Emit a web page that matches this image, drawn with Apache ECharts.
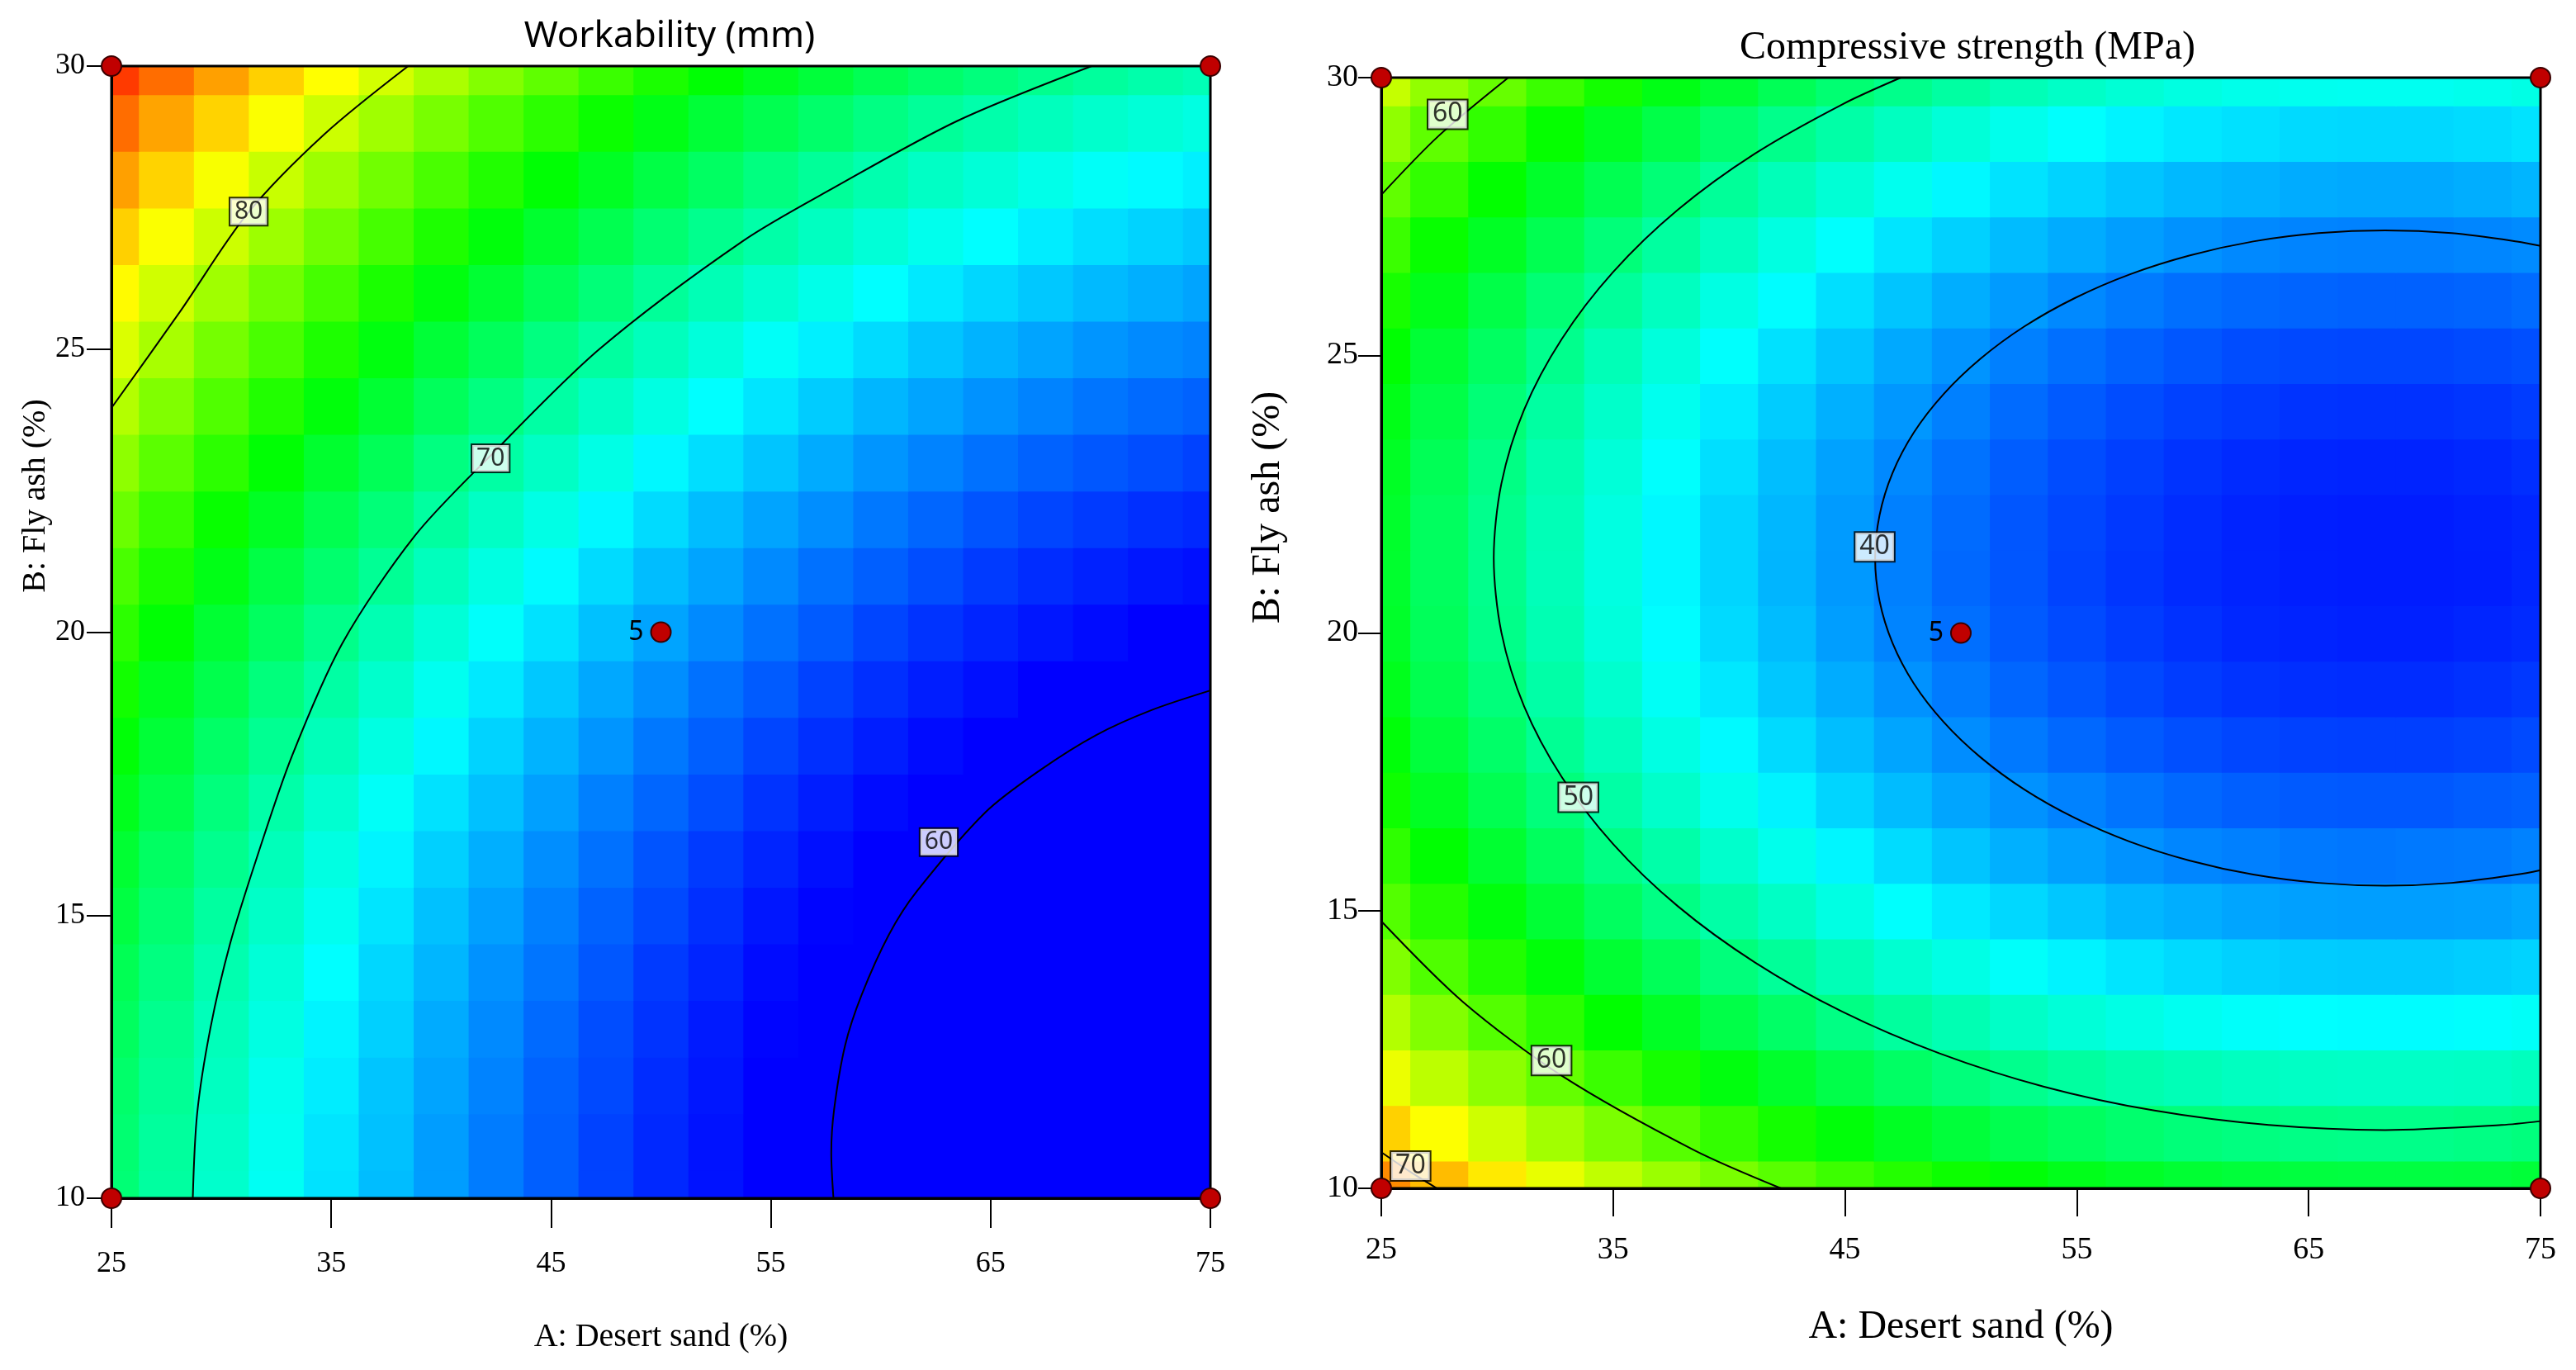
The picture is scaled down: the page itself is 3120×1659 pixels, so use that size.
<!DOCTYPE html>
<html>
<head>
<meta charset="utf-8">
<title>Workability and compressive strength contours</title>
<script src="https://cdn.jsdelivr.net/npm/echarts@6/dist/echarts.min.js"></script>
<style>
  html, body { margin: 0; padding: 0; background: #fff; }
  #chart { width: 3120px; height: 1659px; }
</style>
</head>
<body>
<div id="chart"></div>
<script>
// grid nodes of the two factors
var sandA = [25, 27.5, 30, 32.5, 35, 37.5, 40, 42.5, 45, 47.5, 50, 52.5, 55, 57.5, 60, 62.5, 65, 67.5, 70, 72.5, 75];
var flyB = [10, 11, 12, 13, 14, 15, 16, 17, 18, 19, 20, 21, 22, 23, 24, 25, 26, 27, 28, 29, 30];
var aTicks = [25, 35, 45, 55, 65, 75];
var bTicks = [10, 15, 20, 25, 30];

// workability (mm), one row per fly ash level (B = 10 ... 30)
var workability = [
  [71.3,70.1,68.9,67.8,66.7,65.7,64.8,63.9,63.1,62.3,61.6,61.0,60.4,59.9,59.4,59.0,58.7,58.4,58.2,58.0,57.9],
  [71.4,70.2,69.0,67.9,66.8,65.8,64.8,63.9,63.1,62.3,61.6,61.0,60.4,59.9,59.4,59.0,58.6,58.3,58.1,57.9,57.8],
  [71.6,70.4,69.2,68.0,67.0,65.9,65.0,64.1,63.2,62.5,61.7,61.1,60.5,59.9,59.5,59.0,58.7,58.4,58.1,58.0,57.8],
  [71.9,70.6,69.4,68.3,67.2,66.2,65.2,64.3,63.4,62.6,61.9,61.2,60.6,60.1,59.6,59.2,58.8,58.5,58.2,58.0,57.9],
  [72.2,71.0,69.7,68.6,67.5,66.4,65.5,64.5,63.7,62.9,62.1,61.5,60.8,60.3,59.8,59.3,59.0,58.6,58.4,58.2,58.0],
  [72.7,71.4,70.1,69.0,67.9,66.8,65.8,64.9,64.0,63.2,62.5,61.8,61.1,60.6,60.1,59.6,59.2,58.9,58.6,58.4,58.3],
  [73.1,71.8,70.6,69.4,68.3,67.2,66.2,65.3,64.4,63.6,62.8,62.1,61.5,60.9,60.4,59.9,59.5,59.2,58.9,58.7,58.5],
  [73.7,72.4,71.1,69.9,68.8,67.7,66.7,65.8,64.9,64.0,63.3,62.6,61.9,61.3,60.8,60.3,59.9,59.6,59.3,59.0,58.9],
  [74.3,73.0,71.7,70.5,69.4,68.3,67.3,66.3,65.4,64.6,63.8,63.1,62.4,61.8,61.3,60.8,60.4,60.0,59.7,59.5,59.3],
  [75.0,73.6,72.4,71.1,70.0,68.9,67.9,66.9,66.0,65.1,64.4,63.6,63.0,62.3,61.8,61.3,60.9,60.5,60.2,59.9,59.8],
  [75.7,74.4,73.1,71.9,70.7,69.6,68.6,67.6,66.7,65.8,65.0,64.3,63.6,63.0,62.4,61.9,61.5,61.1,60.8,60.5,60.3],
  [76.5,75.2,73.9,72.6,71.5,70.4,69.3,68.3,67.4,66.5,65.7,65.0,64.3,63.6,63.1,62.6,62.1,61.7,61.4,61.1,60.9],
  [77.4,76.0,74.7,73.5,72.3,71.2,70.1,69.1,68.2,67.3,66.5,65.7,65.0,64.4,63.8,63.3,62.8,62.4,62.1,61.8,61.6],
  [78.4,77.0,75.7,74.4,73.2,72.1,71.0,70.0,69.1,68.2,67.3,66.6,65.9,65.2,64.6,64.1,63.6,63.2,62.9,62.6,62.3],
  [79.4,78.0,76.7,75.4,74.2,73.1,72.0,71.0,70.0,69.1,68.3,67.5,66.8,66.1,65.5,65.0,64.5,64.1,63.7,63.4,63.2],
  [80.5,79.1,77.7,76.5,75.3,74.1,73.0,72.0,71.0,70.1,69.3,68.5,67.7,67.1,66.5,65.9,65.4,65.0,64.6,64.3,64.1],
  [81.6,80.2,78.9,77.6,76.4,75.2,74.1,73.1,72.1,71.2,70.3,69.5,68.8,68.1,67.5,66.9,66.4,66.0,65.6,65.3,65.0],
  [82.8,81.4,80.1,78.8,77.6,76.4,75.3,74.2,73.2,72.3,71.4,70.6,69.9,69.2,68.6,68.0,67.5,67.0,66.6,66.3,66.0],
  [84.1,82.7,81.3,80.0,78.8,77.6,76.5,75.4,74.4,73.5,72.6,71.8,71.0,70.3,69.7,69.1,68.6,68.1,67.7,67.4,67.1],
  [85.5,84.0,82.7,81.4,80.1,78.9,77.8,76.7,75.7,74.8,73.9,73.0,72.3,71.6,70.9,70.3,69.8,69.3,68.9,68.6,68.3],
  [86.9,85.5,84.1,82.8,81.5,80.3,79.2,78.1,77.1,76.1,75.2,74.4,73.6,72.9,72.2,71.6,71.1,70.6,70.2,69.8,69.5]
];

// compressive strength (MPa), same grid
var strength = [
  [72.0,69.9,67.9,66.0,64.3,62.7,61.2,59.8,58.6,57.5,56.5,55.7,54.9,54.3,53.8,53.5,53.3,53.2,53.2,53.3,53.6],
  [69.0,66.9,64.9,63.0,61.3,59.7,58.2,56.8,55.6,54.5,53.5,52.6,51.9,51.3,50.8,50.5,50.2,50.1,50.1,50.3,50.6],
  [66.2,64.1,62.1,60.3,58.5,56.9,55.4,54.1,52.8,51.7,50.7,49.9,49.1,48.5,48.1,47.7,47.5,47.4,47.4,47.5,47.8],
  [63.7,61.6,59.6,57.8,56.0,54.4,52.9,51.6,50.3,49.2,48.3,47.4,46.7,46.1,45.6,45.2,45.0,44.9,44.9,45.1,45.3],
  [61.5,59.4,57.4,55.6,53.8,52.2,50.7,49.4,48.1,47.0,46.1,45.2,44.5,43.9,43.4,43.0,42.8,42.7,42.7,42.9,43.1],
  [59.6,57.5,55.5,53.7,51.9,50.3,48.8,47.5,46.2,45.1,44.1,43.3,42.6,41.9,41.5,41.1,40.9,40.8,40.8,40.9,41.2],
  [58.0,55.9,53.9,52.0,50.3,48.7,47.2,45.8,44.6,43.5,42.5,41.6,40.9,40.3,39.8,39.5,39.2,39.1,39.2,39.3,39.6],
  [56.6,54.5,52.5,50.7,48.9,47.3,45.8,44.5,43.2,42.1,41.1,40.3,39.6,39.0,38.5,38.1,37.9,37.8,37.8,38.0,38.2],
  [55.6,53.4,51.5,49.6,47.9,46.2,44.8,43.4,42.2,41.1,40.1,39.2,38.5,37.9,37.4,37.0,36.8,36.7,36.7,36.9,37.2],
  [54.8,52.6,50.7,48.8,47.1,45.4,44.0,42.6,41.4,40.3,39.3,38.4,37.7,37.1,36.6,36.2,36.0,35.9,35.9,36.1,36.4],
  [54.2,52.1,50.1,48.3,46.5,44.9,43.4,42.1,40.8,39.7,38.8,37.9,37.2,36.6,36.1,35.7,35.5,35.4,35.4,35.6,35.8],
  [54.0,51.9,49.9,48.0,46.3,44.7,43.2,41.8,40.6,39.5,38.5,37.7,36.9,36.3,35.8,35.5,35.3,35.2,35.2,35.3,35.6],
  [54.1,51.9,49.9,48.1,46.3,44.7,43.2,41.9,40.7,39.5,38.6,37.7,37.0,36.4,35.9,35.5,35.3,35.2,35.2,35.4,35.6],
  [54.4,52.3,50.3,48.4,46.7,45.1,43.6,42.2,41.0,39.9,38.9,38.0,37.3,36.7,36.2,35.8,35.6,35.5,35.5,35.7,36.0],
  [55.0,52.9,50.9,49.0,47.3,45.7,44.2,42.8,41.6,40.5,39.5,38.6,37.9,37.3,36.8,36.5,36.2,36.1,36.1,36.3,36.6],
  [55.9,53.7,51.8,49.9,48.1,46.5,45.1,43.7,42.5,41.3,40.4,39.5,38.8,38.2,37.7,37.3,37.1,37.0,37.0,37.2,37.4],
  [57.0,54.9,52.9,51.0,49.3,47.7,46.2,44.9,43.6,42.5,41.5,40.7,39.9,39.3,38.8,38.5,38.3,38.2,38.2,38.3,38.6],
  [58.5,56.3,54.4,52.5,50.8,49.1,47.7,46.3,45.1,43.9,43.0,42.1,41.4,40.8,40.3,39.9,39.7,39.6,39.6,39.8,40.0],
  [60.2,58.1,56.1,54.2,52.5,50.9,49.4,48.0,46.8,45.7,44.7,43.8,43.1,42.5,42.0,41.7,41.4,41.3,41.3,41.5,41.8],
  [62.2,60.1,58.1,56.2,54.5,52.9,51.4,50.0,48.8,47.7,46.7,45.8,45.1,44.5,44.0,43.7,43.4,43.3,43.3,43.5,43.8],
  [64.5,62.3,60.4,58.5,56.8,55.1,53.7,52.3,51.1,50.0,49.0,48.1,47.4,46.8,46.3,45.9,45.7,45.6,45.6,45.8,46.1]
];

// contour lines, [A, B]
var work80 = [[25,23.96],[28.1,25.65],[31.2,27.4],[34.7,28.8],[38.5,30]];
var work70 = [[28.7,10],[28.9,11.5],[29.5,13],[30.4,14.5],[31.6,16],[33.2,17.8],[35.5,19.8],[38.8,21.7],[42.2,23.1],[47.2,25.0],[53.73,26.91],[57.91,27.86],[63.48,29.03],[69.6,30]];
var work60 = [[57.85,10],[57.75,10.8],[57.88,11.57],[58.38,12.7],[59.13,13.59],[60.38,14.66],[61.64,15.42],[64.77,16.82],[67.28,17.57],[69.79,18.18],[72.3,18.62],[75,18.97]];
var str40 = [[75,26.97],[73.99,27.05],[71.17,27.2],[68.3,27.25],[65.43,27.2],[62.61,27.05],[59.88,26.8],[57.3,26.46],
  [54.91,26.03],[52.74,25.52],[50.85,24.94],[49.25,24.3],[47.97,23.61],[47.05,22.88],[46.49,22.12],[46.3,21.35],
  [46.49,20.58],[47.05,19.82],[47.97,19.09],[49.25,18.4],[50.85,17.76],[52.74,17.18],[54.91,16.67],[57.3,16.24],
  [59.88,15.9],[62.61,15.65],[65.43,15.5],[68.3,15.45],[71.17,15.5],[73.99,15.65],[75,15.73]];
var str50 = [[47.41,30],[44.89,29.52],[41.11,28.63],[37.79,27.62],[35.0,26.5],[32.78,25.29],[31.16,24.02],[30.18,22.69],
  [29.85,21.35],[30.18,20.01],[31.16,18.68],[32.78,17.41],[35.0,16.2],[37.79,15.08],[41.11,14.07],[44.89,13.18],
  [49.08,12.43],[53.59,11.83],[58.35,11.4],[63.28,11.14],[68.3,11.05],[73.32,11.14],[75,11.21]];
var str60a = [[25,27.89],[27.47,28.95],[30.48,30]];
var str60b = [[25,14.81],[28.54,13.35],[32.81,12.02],[38.48,10.69],[42.24,10]];
var str70 = [[25,10.65],[26.2,10.31],[27.4,10]];

// contour labels [A, B, text]
var workLabels = [[31.24,27.43,'80'],[42.25,23.07,'70'],[62.64,16.29,'60']];
var strLabels = [[27.86,29.34,'60'],[46.28,21.55,'40'],[33.5,17.04,'50'],[32.34,12.3,'60'],[26.26,10.4,'70']];

// design points
var cornerPts = [[25,10],[25,30],[75,10],[75,30]];
var centerPt = [[50,20,'5']];

var serif = "'Liberation Serif', 'Times New Roman', serif";
var sans = "'Noto Sans', 'DejaVu Sans', sans-serif";

function cells(values) {
    var out = [];
    flyB.forEach(function (b, j) {
        sandA.forEach(function (a, i) {
            out.push([a, b, values[j][i]]);
        });
    });
    return out;
}

var halfA = (sandA[1] - sandA[0]) / 2;
var halfB = (flyB[1] - flyB[0]) / 2;
function renderCell(params, api) {
    var a = api.value(0), b = api.value(1);
    var p0 = api.coord([a - halfA, b + halfB]);
    var p1 = api.coord([a + halfA, b - halfB]);
    return {
        type: 'rect',
        shape: { x: p0[0], y: p0[1], width: p1[0] - p0[0] + 1, height: p1[1] - p0[1] + 1 },
        style: { fill: api.visual('color') }
    };
}

function xAxisFor(idx, fs, nfs, gap, margin, tick) {
    return {
        gridIndex: idx, type: 'value', min: 25, max: 75, z: 5,
        name: 'A: Desert sand (%)', nameLocation: 'middle', nameGap: gap,
        nameTextStyle: { fontFamily: serif, fontSize: nfs, color: '#000' },
        axisLine: { show: true, onZero: false, lineStyle: { color: '#000', width: 3 } },
        axisTick: { show: true, length: tick, customValues: aTicks, lineStyle: { color: '#000', width: 2 } },
        axisLabel: { customValues: aTicks, margin: margin, fontFamily: serif, fontSize: fs, color: '#000' },
        splitLine: { show: false }
    };
}
function yAxisFor(idx, fs, nfs, gap, margin, tick, shift) {
    return {
        gridIndex: idx, type: 'value', min: 10, max: 30, z: 5,
        name: 'B: Fly ash (%)', nameLocation: 'middle', nameGap: gap, nameRotate: 90,
        nameTextStyle: { fontFamily: serif, fontSize: nfs, color: '#000', padding: [0, 0, 0, shift] },
        axisLine: { show: true, onZero: false, lineStyle: { color: '#000', width: 3 } },
        axisTick: { show: true, length: tick, customValues: bTicks, lineStyle: { color: '#000', width: 2 } },
        axisLabel: { customValues: bTicks, margin: margin, fontFamily: serif, fontSize: fs, color: '#000' },
        splitLine: { show: false }
    };
}

function contour(idx, data) {
    return {
        type: 'line', xAxisIndex: idx, yAxisIndex: idx, data: data,
        smooth: 0.3, symbol: 'none', clip: true, z: 6, silent: true,
        lineStyle: { color: '#000', width: 2 }
    };
}
function labels(idx, data, fs) {
    return {
        type: 'scatter', xAxisIndex: idx, yAxisIndex: idx, data: data,
        symbolSize: 0, z: 8, silent: true, clip: false,
        label: {
            show: true, position: 'inside', formatter: function (p) { return p.value[2]; },
            fontFamily: sans, fontSize: fs, color: '#000',
            backgroundColor: '#fff', borderColor: '#000', borderWidth: 2, padding: [2, 5, 0, 5]
        }
    };
}
function designPoints(idx) {
    return [{
        type: 'scatter', xAxisIndex: idx, yAxisIndex: idx, data: cornerPts,
        symbolSize: 24, z: 9, clip: false, silent: true,
        itemStyle: { color: '#c00000', borderColor: '#3a0000', borderWidth: 2, opacity: 1 }
    }, {
        type: 'scatter', xAxisIndex: idx, yAxisIndex: idx, data: centerPt,
        symbolSize: 24, z: 9, clip: false, silent: true,
        itemStyle: { color: '#c00000', borderColor: '#3a0000', borderWidth: 2, opacity: 1 },
        label: { show: true, position: 'left', distance: 8, formatter: function (p) { return p.value[2]; },
                 fontFamily: sans, fontSize: 32, color: '#000' }
    }];
}

var chart = echarts.init(document.getElementById('chart'), null, { renderer: 'canvas' });
var option = {
    backgroundColor: '#fff',
    animation: false,
    title: [{
        text: 'Workability (mm)', left: 811, top: 22, textAlign: 'center', padding: 0,
        textStyle: { fontFamily: sans, fontSize: 44, fontWeight: 'normal', color: '#000' }
    }, {
        text: 'Compressive strength (MPa)', left: 2383, top: 34, textAlign: 'center', padding: 0,
        textStyle: { fontFamily: serif, fontSize: 48, fontWeight: 'normal', color: '#000' }
    }],
    grid: [
        { left: 135, top: 80, width: 1331, height: 1371, containLabel: false, show: true, z: 5,
          borderColor: '#000', borderWidth: 3, backgroundColor: 'transparent' },
        { left: 1673, top: 94, width: 1404, height: 1345, containLabel: false, show: true, z: 5,
          borderColor: '#000', borderWidth: 3, backgroundColor: 'transparent' }
    ],
    xAxis: [xAxisFor(0, 36, 40, 148, 62, 36), xAxisFor(1, 38, 48, 144, 56, 34)],
    yAxis: [yAxisFor(0, 36, 40, 72, 32, 30, 330), yAxisFor(1, 38, 48, 113, 28, 28, 304)],
    visualMap: [{
        type: 'continuous', show: false, seriesIndex: 0, dimension: 2,
        min: 53.5, max: 88.5,
        inRange: { color: ['#0000ff', '#0000ff', '#00ffff', '#00ff00', '#ffff00', '#ff0000'] }
    }, {
        type: 'continuous', show: false, seriesIndex: 1, dimension: 2,
        min: 34, max: 78,
        inRange: { color: ['#0000ff', '#00ffff', '#00ff00', '#ffff00', '#ff0000'] }
    }],
    series: [
        { type: 'custom', xAxisIndex: 0, yAxisIndex: 0, data: cells(workability), renderItem: renderCell,
          clip: true, z: 1, silent: true, encode: { x: 0, y: 1 } },
        { type: 'custom', xAxisIndex: 1, yAxisIndex: 1, data: cells(strength), renderItem: renderCell,
          clip: true, z: 1, silent: true, encode: { x: 0, y: 1 } },
        contour(0, work80), contour(0, work70), contour(0, work60),
        contour(1, str40), contour(1, str50), contour(1, str60a), contour(1, str60b), contour(1, str70),
        labels(0, workLabels, 30), labels(1, strLabels, 32)
    ].concat(designPoints(0), designPoints(1))
};
chart.setOption(option);
</script>
</body>
</html>
